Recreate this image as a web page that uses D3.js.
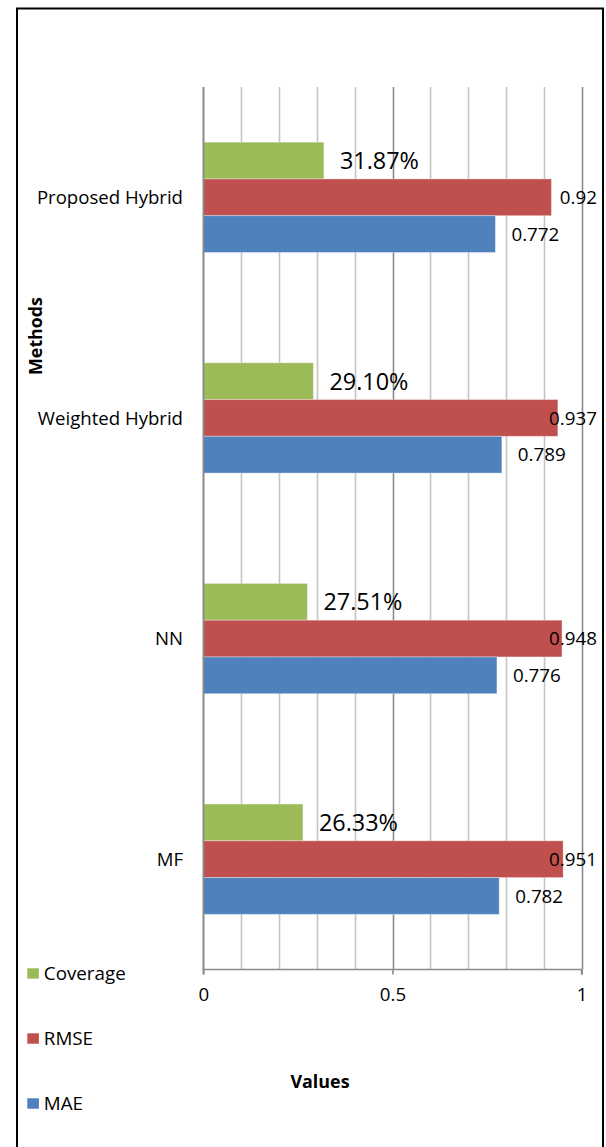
<!DOCTYPE html>
<html>
<head>
<meta charset="utf-8">
<script src="https://cdn.jsdelivr.net/npm/d3@7"></script>
<style>
  html, body { margin: 0; padding: 0; background: #fff; }
  svg text { font-family: "Open Sans", "Noto Sans", sans-serif; fill: #000; }
</style>
</head>
<body>
<svg id="chart" width="606" height="1147"></svg>
<script>
// Methods, top to bottom
const methods = ["Proposed Hybrid", "Weighted Hybrid", "NN", "MF"];
// Series, drawn top to bottom inside each group
const seriesNames = ["Coverage", "RMSE", "MAE"];
const coverage = [0.3187, 0.2910, 0.2751, 0.2633];
const rmse = [0.92, 0.937, 0.948, 0.951];
const mae = [0.772, 0.789, 0.776, 0.782];
const xTickValues = [0, 0.5, 1];
const colors = ["#9BBB59", "#C0504D", "#4F81BD"];

const seriesValues = [coverage, rmse, mae];
const fmtPct = d3.format(".2%");
const labelText = (s, v) => s === 0 ? fmtPct(v) : String(v);

const svg = d3.select("#chart");

// Outer chart frame
svg.append("rect")
  .attr("x", 17).attr("y", 8.5)
  .attr("width", 586).attr("height", 1160)
  .attr("fill", "none").attr("stroke", "#000").attr("stroke-width", 2);

const plot = { left: 203.3, right: 581.7, top: 87, bottom: 969.5 };

const x = d3.scaleLinear().domain([0, 1]).range([plot.left, plot.right]);
const y = d3.scaleBand().domain(methods)
  .range([plot.top, plot.bottom]).paddingInner(0.5).paddingOuter(0.25);
const ySub = d3.scaleBand().domain(seriesNames).range([0, y.bandwidth()]);

// Vertical gridlines every 0.1, darker at the labelled values
const grid = svg.append("g");
grid.selectAll("line").data(x.ticks(10))
  .join("line")
  .attr("x1", d => Math.round(x(d)) + 0.5).attr("x2", d => Math.round(x(d)) + 0.5)
  .attr("y1", plot.top).attr("y2", plot.bottom)
  .attr("stroke", d => xTickValues.some(t => Math.abs(t - d) < 1e-9) ? "#8a8a8a" : "#c4c4c4")
  .attr("stroke-width", 1.6);

// Bars
const data = [];
methods.forEach((m, i) => {
  seriesNames.forEach((s, j) => {
    data.push({ method: m, series: s, si: j, value: seriesValues[j][i] });
  });
});

svg.append("g").selectAll("rect").data(data)
  .join("rect")
  .attr("x", x(0))
  .attr("y", d => y(d.method) + ySub(d.series))
  .attr("width", d => x(d.value) - x(0))
  .attr("height", ySub.bandwidth())
  .attr("fill", d => colors[d.si])
  .attr("stroke", "rgba(255,255,255,0.35)")
  .attr("stroke-width", 1);

// Category axis line
svg.append("line")
  .attr("x1", Math.round(x(0)) + 0.5).attr("x2", Math.round(x(0)) + 0.5)
  .attr("y1", plot.top).attr("y2", plot.bottom)
  .attr("stroke", "#8a8a8a").attr("stroke-width", 1.6);

// Value axis
const xAxis = svg.append("g")
  .attr("transform", `translate(0,${plot.bottom})`)
  .call(d3.axisBottom(x).tickValues(xTickValues).tickSize(5).tickPadding(13)
    .tickFormat(d => String(d)));
xAxis.select(".domain").attr("stroke", "#8a8a8a").attr("stroke-width", 1.6)
  .attr("d", `M${x(0)},5V0H${x(1)}V5`);
xAxis.selectAll(".tick line").attr("stroke", "#8a8a8a").attr("stroke-width", 1.6);
xAxis.selectAll(".tick text")
  .style("font-size", "18.7px").attr("fill", "#000")
  .style("font-family", "'Open Sans', sans-serif");

// Category labels
svg.append("g").selectAll("text").data(methods)
  .join("text")
  .attr("x", 183)
  .attr("y", d => y(d) + y.bandwidth() / 2)
  .attr("dy", "0.36em")
  .attr("text-anchor", "end")
  .style("font-size", "18.6px")
  .text(d => d);

// Data labels: right of the bar end, kept inside the chart area
const labelRight = 597;
const labels = svg.append("g").selectAll("text").data(data)
  .join("text")
  .attr("y", d => y(d.method) + ySub(d.series) + ySub.bandwidth() / 2)
  .attr("dy", "0.36em")
  .style("font-size", d => d.si === 0 ? "23.4px" : "18.8px")
  .text(d => labelText(d.si, d.value));
labels.attr("x", function (d) {
  const w = this.getComputedTextLength();
  return Math.min(x(d.value) + 16, labelRight - w);
});

// Axis titles
svg.append("text")
  .attr("transform", "translate(36,336) rotate(-90)")
  .attr("dy", "0.36em")
  .attr("text-anchor", "middle")
  .style("font-size", "17.8px").style("font-weight", "bold")
  .text("Methods");

svg.append("text")
  .attr("x", 320).attr("y", 1082)
  .attr("dy", "0.36em")
  .attr("text-anchor", "middle")
  .style("font-size", "17.9px").style("font-weight", "bold")
  .text("Values");

// Legend
const legendY = [973.5, 1038.5, 1103.5];
const legend = svg.append("g").selectAll("g").data(seriesNames)
  .join("g")
  .attr("transform", (d, i) => `translate(27.3,${legendY[i]})`);
legend.append("rect")
  .attr("x", 0).attr("y", -5.2).attr("width", 11.6).attr("height", 10.4)
  .attr("fill", (d, i) => colors[i]);
legend.append("text")
  .attr("x", 16.5).attr("dy", "0.36em")
  .style("font-size", "18.8px")
  .text(d => d);
</script>
</body>
</html>
